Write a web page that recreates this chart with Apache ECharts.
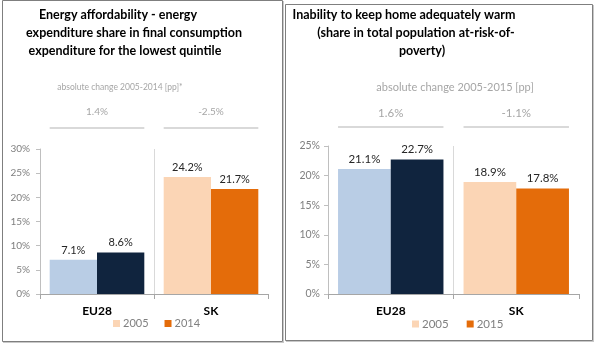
<!DOCTYPE html>
<html>
<head>
<meta charset="utf-8">
<script src="https://cdn.jsdelivr.net/npm/echarts@6/dist/echarts.min.js"></script>
<style>
  html, body { margin: 0; padding: 0; background: #fff; }
  #chart { width: 597px; height: 349px; }
</style>
</head>
<body>
<div id="chart"></div>
<script>
// Categories shared by both panels
const categories = ['EU28', 'SK'];

// Left panel: energy expenditure share, lowest quintile
const leftYears = ['2005', '2014'];
const leftValues2005 = [7.1, 24.2];
const leftValues2014 = [8.6, 21.7];
const leftChanges = ['1.4%', '-2.5%'];
const leftTitle = ['Energy affordability - energy', 'expenditure share in final consumption', 'expenditure for the lowest quintile'];
const leftSubtitle = 'absolute change 2005-2014 [pp]*';

// Right panel: inability to keep home adequately warm
const rightYears = ['2005', '2015'];
const rightValues2005 = [21.1, 18.9];
const rightValues2015 = [22.7, 17.8];
const rightChanges = ['1.6%', '-1.1%'];
const rightTitle = ['Inability to keep home adequately warm', '(share in total population at-risk-of-', 'poverty)'];
const rightSubtitle = 'absolute change 2005-2015 [pp]';

// Per-category colours: [earlier year, later year]
const palette = {
  EU28: ['#b9cde5', '#10243e'],
  SK: ['#fbd5b5', '#e46c0a']
};

const FONT = 'Lato, "Open Sans", sans-serif';
const chart = echarts.init(document.getElementById('chart'), null, { renderer: 'canvas' });

function barData(values, yearIdx) {
  return values.map((v, i) => ({ value: v, itemStyle: { color: palette[categories[i]][yearIdx] } }));
}

function barSeries(name, values, yearIdx, axisIdx, gap, labelSize) {
  return {
    name: name,
    type: 'bar',
    xAxisIndex: axisIdx,
    yAxisIndex: axisIdx,
    barGap: '0%',
    barCategoryGap: gap,
    itemStyle: { color: palette.SK[yearIdx] },
    data: barData(values, yearIdx),
    label: {
      show: true,
      position: 'top',
      distance: 4,
      color: '#262626',
      fontFamily: FONT,
      fontSize: labelSize,
      formatter: p => p.value.toFixed(1) + '%'
    },
    emphasis: { disabled: true },
    animation: false
  };
}

function xAxis(gridIndex, labelSize) {
  return {
    type: 'category',
    gridIndex: gridIndex,
    data: categories,
    axisLine: { lineStyle: { color: '#a6a6a6', width: 1 } },
    axisTick: { show: true, length: 5, lineStyle: { color: '#a6a6a6' } },
    axisLabel: { color: '#000', fontWeight: 'bold', fontFamily: FONT, fontSize: labelSize, margin: 11 },
    splitLine: { show: true, showMinLine: false, showMaxLine: false, lineStyle: { color: '#d9d9d9', width: 1 } }
  };
}

function yAxis(gridIndex, max, margin, labelSize) {
  return {
    type: 'value',
    gridIndex: gridIndex,
    min: 0,
    max: max,
    interval: 5,
    axisLine: { show: true, lineStyle: { color: '#bfbfbf' } },
    axisTick: { show: true, length: 4, lineStyle: { color: '#bfbfbf' } },
    axisLabel: { color: '#7f7f7f', fontFamily: FONT, fontSize: labelSize, margin: margin, formatter: '{value}%' },
    splitLine: { show: false }
  };
}

function legend(names, left, gap, size) {
  return {
    data: names,
    left: left,
    top: 318,
    padding: 0,
    icon: 'rect',
    itemWidth: 7,
    itemHeight: 7,
    itemGap: gap,
    selectedMode: false,
    textStyle: { color: '#7f7f7f', fontFamily: FONT, fontSize: size, padding: [0, 0, 0, -2] }
  };
}

chart.setOption({
  animation: false,
  grid: [
    { left: 40, top: 149, width: 228, height: 145 },
    { left: 328, top: 146, width: 251, height: 148 }
  ],
  xAxis: [xAxis(0, 12), xAxis(1, 12)],
  yAxis: [yAxis(0, 30, 10, 10), yAxis(1, 25, 8, 10.5)],
  legend: [legend(leftYears, 113, 16, 11), legend(rightYears, 412, 18, 11.5)],
  series: [
    barSeries(leftYears[0], leftValues2005, 0, 0, '17%', 11),
    barSeries(leftYears[1], leftValues2014, 1, 0, '17%', 11),
    barSeries(rightYears[0], rightValues2005, 0, 1, '16%', 11.5),
    barSeries(rightYears[1], rightValues2015, 1, 1, '16%', 11.5)
  ]
});

// Decorations: panel frames, titles, change labels and rules above each category group
function textEl(text, x, y, font, fill) {
  return { type: 'text', x: x, y: y, silent: true,
    style: { text: text, font: font, fill: fill, align: 'center', verticalAlign: 'middle' } };
}
function lineEl(x1, y1, x2, y2, color, w) {
  return { type: 'line', silent: true, shape: { x1, y1, x2, y2 }, style: { stroke: color, lineWidth: w } };
}

function panelElements(axisIdx, titleLines, titleCenters, subtitle, subX, subFont, changes, changeFont, ruleY, changeY, gapRatio) {
  const els = [];
  titleLines.forEach((t, i) => els.push(textEl(t, titleCenters[i], 15 + i * 18, 'bold 12.5px ' + FONT, '#000')));
  els.push(textEl(subtitle, subX, 87, subFont + ' ' + FONT, '#a6a6a6'));
  const c0 = chart.convertToPixel({ xAxisIndex: axisIdx }, categories[0]);
  const c1 = chart.convertToPixel({ xAxisIndex: axisIdx }, categories[1]);
  const band = c1 - c0;
  const half = band * (1 - gapRatio) / 2;
  [c0, c1].forEach((cx, i) => {
    els.push(textEl(changes[i], cx, changeY, changeFont + ' ' + FONT, '#a6a6a6'));
    els.push(lineEl(cx - half, ruleY, cx + half, ruleY, '#d9d9d9', 2));
  });
  return els;
}

const frames = [
  { type: 'rect', silent: true, shape: { x: 2.5, y: 0.5, width: 280, height: 341 }, style: { fill: 'none', stroke: '#7f7f7f', lineWidth: 1 } },
  lineEl(283.5, 1, 283.5, 343, '#c8c8c8', 1),
  lineEl(3, 342.5, 284, 342.5, '#c8c8c8', 1),
  { type: 'rect', silent: true, shape: { x: 285.5, y: 4.5, width: 307, height: 336 }, style: { fill: 'none', stroke: '#7f7f7f', lineWidth: 1 } },
  lineEl(593.5, 5, 593.5, 342, '#c8c8c8', 1),
  lineEl(286, 341.5, 594, 341.5, '#c8c8c8', 1)
];

chart.setOption({
  graphic: frames
    .concat(panelElements(0, leftTitle, [118, 134, 125], leftSubtitle, 120, '8.5px', leftChanges, '10px', 128, 112, 0.17))
    .concat(panelElements(1, rightTitle, [404, 416, 422], rightSubtitle, 455, '11px', rightChanges, '11.5px', 127, 113, 0.16))
});
</script>
</body>
</html>
